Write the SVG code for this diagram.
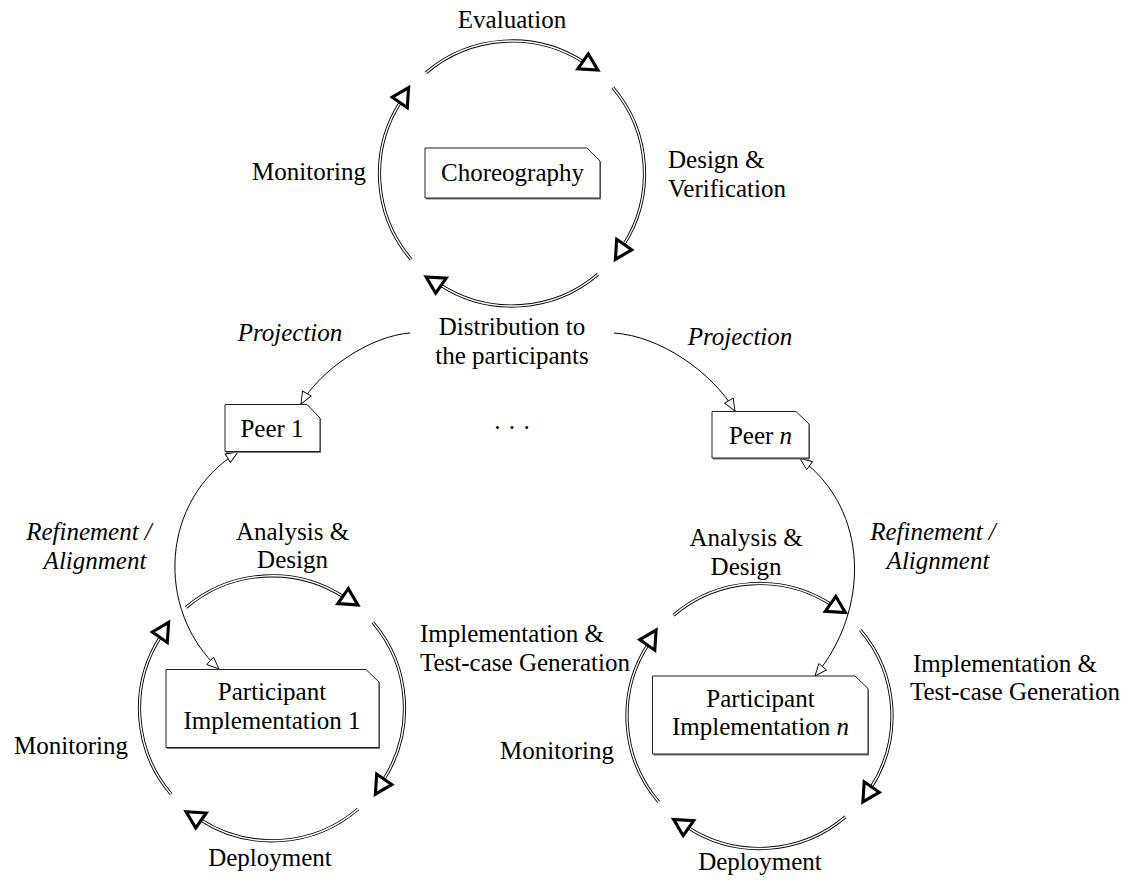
<svg xmlns="http://www.w3.org/2000/svg" xmlns:xlink="http://www.w3.org/1999/xlink" width="1129" height="882" viewBox="0 0 1129 882">
  <style>
    text { font-family: "Liberation Serif", "Times New Roman", serif; font-size: 25px; fill: #000; }
    .it { font-style: italic; }
    .mid { text-anchor: middle; }
    .doc { fill: #fff; stroke: #222; stroke-width: 1; }
    .shadow { fill: #777; }
    .flow-outer { fill: none; stroke: #000; stroke-width: 3.2; }
    .flow-inner { fill: none; stroke: #fff; stroke-width: 1.4; }
    .head { fill: #fff; stroke: #000; stroke-width: 3.1; stroke-linejoin: miter; }
    .link { fill: none; stroke: #000; stroke-width: 1; }
  </style>
  <defs>
    <marker id="open-tri" markerUnits="userSpaceOnUse" markerWidth="14" markerHeight="12" viewBox="-1 -1 14 12" refX="12" refY="5" orient="auto-start-reverse">
      <path d="M0,0 L12,5 L0,10 Z" fill="#fff" stroke="#000" stroke-width="0.9"/>
    </marker>
    <!-- one quarter of a lifecycle ring: double-lined arc ending in a bold open triangle -->
    <g id="quarter">
      <path class="flow-outer" d="M-86,-100.8 A132.5,132.5 0 0 1 72.2,-111.1"/>
      <path class="flow-inner" d="M-86,-100.8 A132.5,132.5 0 0 1 72.2,-111.1"/>
      <polygon class="head" points="76.3,-119.7 65.8,-104.7 85.9,-103.4"/>
    </g>
    <g id="cycle">
      <use xlink:href="#quarter"/>
      <use xlink:href="#quarter" transform="rotate(90)"/>
      <use xlink:href="#quarter" transform="rotate(180)"/>
      <use xlink:href="#quarter" transform="rotate(270)"/>
    </g>
  </defs>

  <rect width="1129" height="882" fill="#fff"/>

  <!-- lifecycle rings -->
  <g id="cycles">
    <use xlink:href="#cycle" transform="translate(512,173.5)"/>
    <use xlink:href="#cycle" transform="translate(272,708.3)"/>
    <use xlink:href="#cycle" transform="translate(759.5,716)"/>
  </g>

  <!-- projection and refinement links -->
  <g id="connectors">
    <path class="link" d="M410,333 C370,336 320,370 301,404" marker-end="url(#open-tri)"/>
    <path class="link" d="M614,333 C660,336 712,372 735,411" marker-end="url(#open-tri)"/>
    <path class="link" d="M238,452 C160,500 155,610 219,669" marker-start="url(#open-tri)" marker-end="url(#open-tri)"/>
    <path class="link" d="M800,458.5 C870,510 870,610 815,676" marker-start="url(#open-tri)" marker-end="url(#open-tri)"/>
  </g>

  <!-- top ring labels -->
  <g id="labels-top">
    <text class="mid" x="512" y="28">Evaluation</text>
    <text class="mid" x="309" y="180">Monitoring</text>
    <text x="668" y="168">Design &amp;</text>
    <text x="668" y="197">Verification</text>
    <text class="mid" x="512" y="335">Distribution to</text>
    <text class="mid" x="512" y="364">the participants</text>
    <text class="mid it" x="290" y="341">Projection</text>
    <text class="mid it" x="740" y="345">Projection</text>
    <text class="mid" x="512" y="436">· · ·</text>
  </g>

  <g id="choreography">
    <polygon class="shadow" points="426,149.2 588,149.2 601,162.2 601,199.4 426,199.4"/>
    <polygon class="doc" points="425,148 587,148 600,161 600,198 425,198"/>
    <text class="mid" x="512.5" y="180.5">Choreography</text>
  </g>

  <g id="peer-1">
    <polygon class="shadow" points="226,405.7 308,405.7 321,419.2 321,452.9 226,452.9"/>
    <polygon class="doc" points="225,404.5 307,404.5 320,418 320,451.5 225,451.5"/>
    <text class="mid" x="272" y="436.5">Peer 1</text>
  </g>

  <g id="peer-n">
    <polygon class="shadow" points="713,412.7 797,412.7 810,425.2 810,459.4 713,459.4"/>
    <polygon class="doc" points="712,411.5 796,411.5 809,424 809,458 712,458"/>
    <text class="mid" x="760.5" y="444">Peer <tspan class="it">n</tspan></text>
  </g>

  <!-- left participant ring labels -->
  <g id="labels-left">
    <text class="mid it" x="89" y="540">Refinement /</text>
    <text class="mid it" x="95" y="569">Alignment</text>
    <text class="mid" x="292.5" y="540">Analysis &amp;</text>
    <text class="mid" x="292.5" y="568">Design</text>
    <text x="420" y="642">Implementation &amp;</text>
    <text x="420" y="671">Test-case Generation</text>
    <text class="mid" x="71" y="754">Monitoring</text>
    <text class="mid" x="270" y="866">Deployment</text>
  </g>

  <g id="participant-1">
    <polygon class="shadow" points="167,670.7 367,670.7 380,683.2 380,748.9 167,748.9"/>
    <polygon class="doc" points="166,669.5 366,669.5 379,682 379,747.5 166,747.5"/>
    <text class="mid" x="272" y="700">Participant</text>
    <text class="mid" x="272" y="728.5">Implementation 1</text>
  </g>

  <!-- right participant ring labels -->
  <g id="labels-right">
    <text class="mid it" x="933" y="540">Refinement /</text>
    <text class="mid it" x="938" y="569">Alignment</text>
    <text class="mid" x="746" y="546">Analysis &amp;</text>
    <text class="mid" x="746" y="575">Design</text>
    <text x="913" y="672">Implementation &amp;</text>
    <text x="910" y="700">Test-case Generation</text>
    <text class="mid" x="557" y="759">Monitoring</text>
    <text class="mid" x="760" y="870">Deployment</text>
  </g>

  <g id="participant-n">
    <polygon class="shadow" points="653.5,677.2 856,677.2 869,689.7 869,755.4 653.5,755.4"/>
    <polygon class="doc" points="652.5,676 855,676 868,688.5 868,754 652.5,754"/>
    <text class="mid" x="760.5" y="707">Participant</text>
    <text class="mid" x="760.5" y="735">Implementation <tspan class="it">n</tspan></text>
  </g>
</svg>
